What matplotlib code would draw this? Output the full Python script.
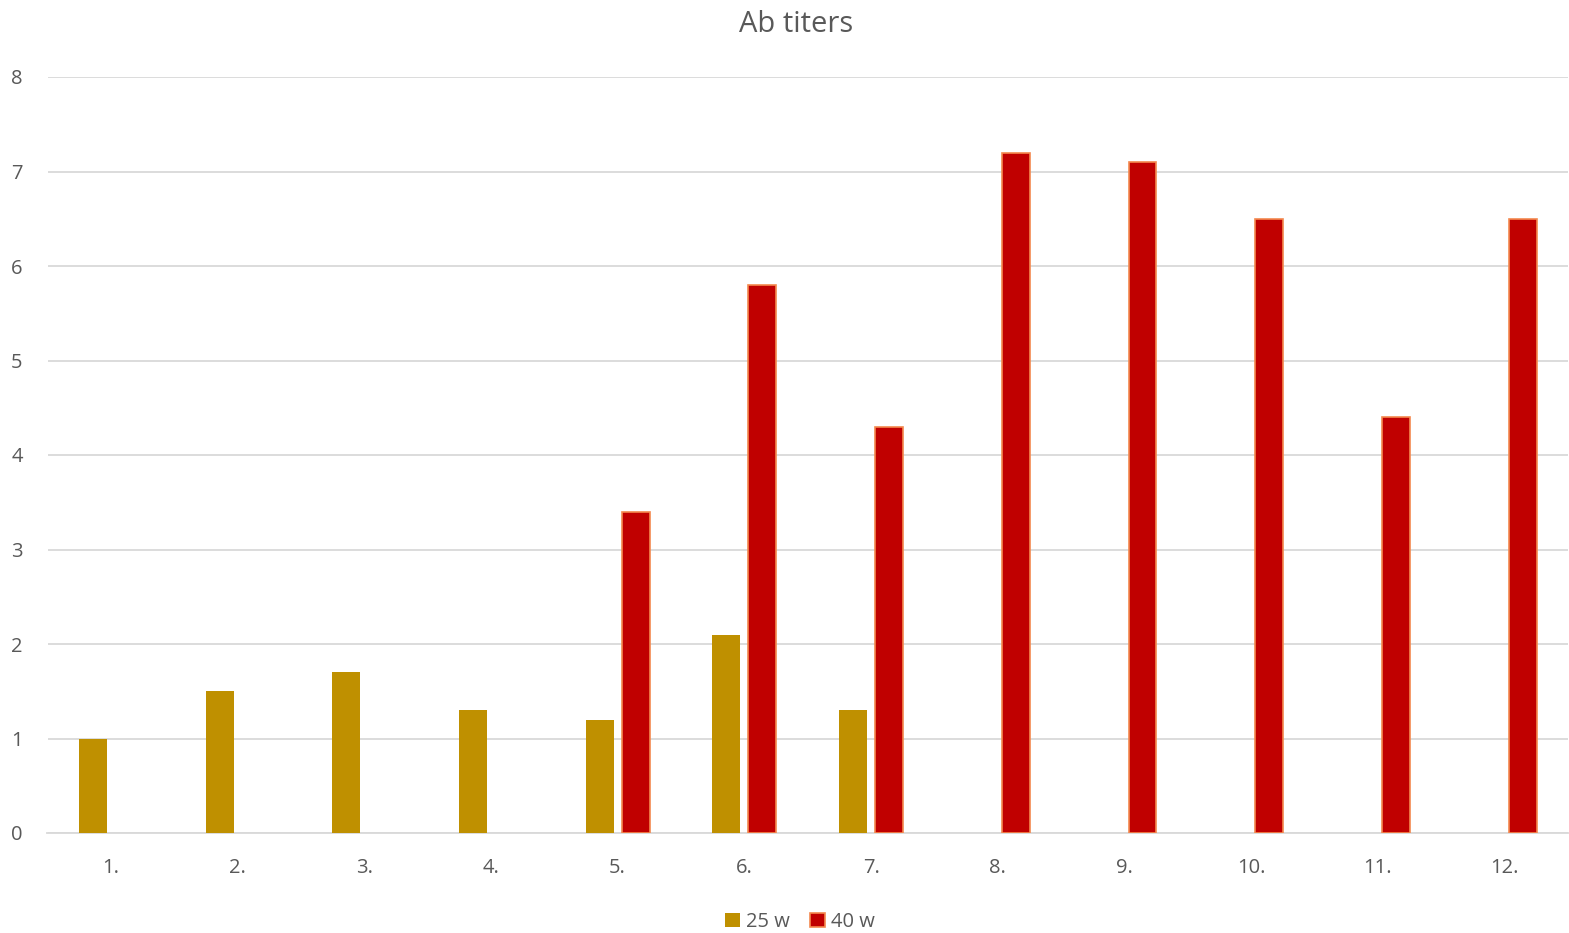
import matplotlib
matplotlib.use("Agg")
import matplotlib.pyplot as plt
import numpy as np

categories = ["1.", "2.", "3.", "4.", "5.", "6.", "7.", "8.", "9.", "10.", "11.", "12."]
w25 = [1.0, 1.5, 1.7, 1.3, 1.2, 2.1, 1.3, np.nan, np.nan, np.nan, np.nan, np.nan]
w40 = [np.nan, np.nan, np.nan, np.nan, 3.4, 5.8, 4.3, 7.2, 7.1, 6.5, 4.4, 6.5]

plt.rcParams['font.family'] = ['Open Sans', 'DejaVu Sans']
txt = '#595959'

fig = plt.figure(figsize=(15.69, 9.33), dpi=100)
ax = fig.add_axes([47.5 / 1569, 1 - 833 / 933, 1520.5 / 1569, 756 / 933])

x = np.arange(len(categories))
bw = 0.22
ax.bar(x - 0.142, w25, bw, color='#BF9000', label='25 w', zorder=3)
ax.bar(x + 0.142, w40, bw, color='#C00000', edgecolor='#F4894F', linewidth=1.2, label='40 w', zorder=3)

ax.set_xlim(-0.5, len(categories) - 0.5)
ax.set_ylim(0, 8)
ax.set_yticks(range(0, 9))
ax.set_xticks(x)
ax.set_xticklabels(categories)
ax.grid(axis='y', color='#D9D9D9', linewidth=1.3, zorder=0)
for s in ['top', 'right', 'left']:
    ax.spines[s].set_visible(False)
ax.spines['bottom'].set_color('#D9D9D9')
ax.spines['bottom'].set_linewidth(1.3)
ax.tick_params(axis='both', length=0, labelsize=14.5, colors=txt)
ax.tick_params(axis='y', pad=22)
ax.tick_params(axis='x', pad=18)
for lbl in ax.get_yticklabels():
    lbl.set_horizontalalignment('center')

fig.text(796 / 1569, 1 - 24 / 933, 'Ab titers', ha='center', va='center', fontsize=21, color=txt)
fig.legend(loc='center', bbox_to_anchor=(800 / 1569, 1 - 922 / 933), ncol=2, frameon=False,
           fontsize=14.5, labelcolor=txt, handlelength=0.75, handleheight=0.75, handletextpad=0.3,
           columnspacing=1.0)

fig.savefig('out.png', dpi=100)
